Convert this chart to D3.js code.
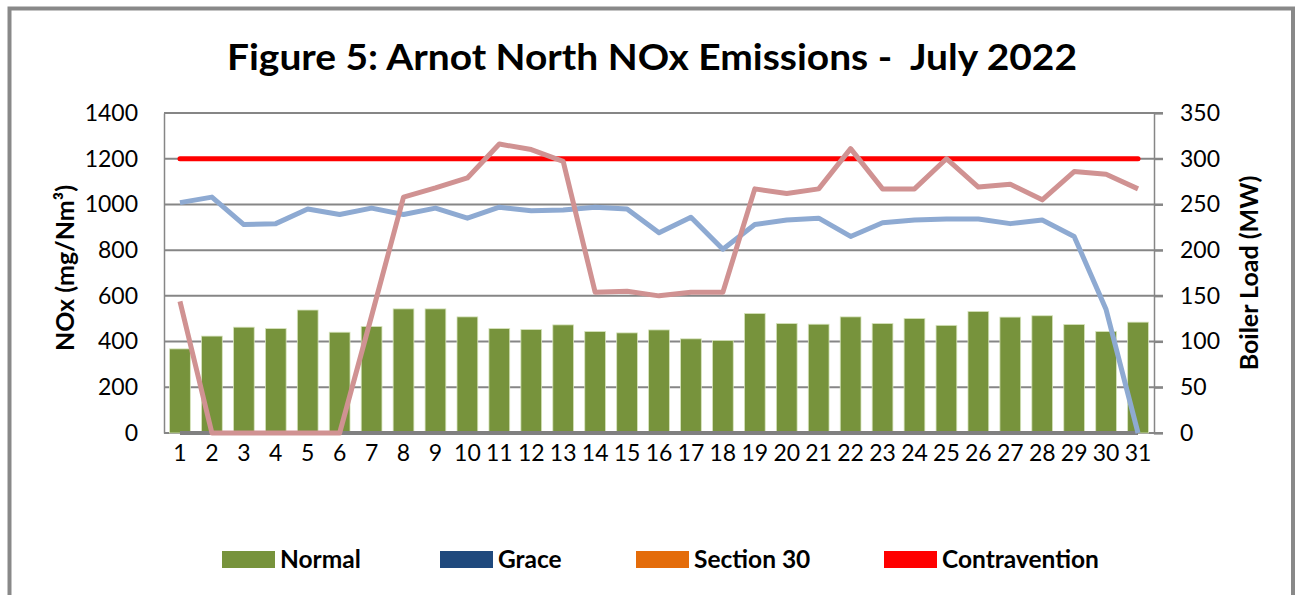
<!DOCTYPE html>
<html>
<head>
<meta charset="utf-8">
<script src="https://cdn.jsdelivr.net/npm/d3@7"></script>
<style>
  body { margin: 0; background: #fff; }
  text { font-family: Lato, "Open Sans", sans-serif; fill: #000; white-space: pre; }
</style>
</head>
<body>
<div class="chart"></div>
<script>
// days of July
var days = [1, 2, 3, 4, 5, 6, 7, 8, 9, 10, 11, 12, 13, 14, 15, 16, 17, 18, 19, 20, 21, 22, 23, 24, 25, 26, 27, 28, 29, 30, 31];

// daily NOx, normal operation (mg/Nm3)
var normalNox = [368, 424, 463, 457, 538, 441, 466, 543, 543, 508, 457, 453, 473, 444, 438, 451, 412, 405, 523, 479, 476, 508, 479, 501, 471, 532, 507, 513, 475, 444, 485];

// boiler loads (MW)
var loadA = [252, 258, 228, 229, 245, 239, 246, 239, 246, 235, 247, 243, 244, 247, 245, 219, 236, 201, 228, 233, 235, 215, 230, 233, 234, 234, 229, 233, 215, 135, 0];
var loadB = [144, 0, 0, 0, 0, 0, 128, 258, 268, 279, 316, 310, 297, 154, 155, 150, 154, 154, 267, 262, 267, 311, 267, 267, 300, 269, 272, 255, 286, 283, 267];

// contravention limit (mg/Nm3)
var limit = 1200;

var leftTicks = [0, 200, 400, 600, 800, 1000, 1200, 1400];
var rightTicks = [0, 50, 100, 150, 200, 250, 300, 350];

var legendItems = [
    { name: "Normal", color: "#77933c", x: 222 },
    { name: "Grace", color: "#1f497d", x: 440 },
    { name: "Section 30", color: "#e46c0a", x: 636 },
    { name: "Contravention", color: "#ff0000", x: 884 }
];

var W = 1302, H = 595;
var plotL = 164, plotR = 1154, plotT = 113, plotB = 433;

var svg = d3.select(".chart")
            .append("svg")
            .attr("width", W)
            .attr("height", H);

svg.append("rect").attr("width", W).attr("height", H).attr("fill", "#fff");

// outer frame
svg.append("rect")
    .attr("x", 9.5).attr("y", 8.5)
    .attr("width", 1283.5).attr("height", 600)
    .attr("fill", "none")
    .attr("stroke", "#898989")
    .attr("stroke-width", 4);

// title
svg.append("text")
    .attr("x", 652).attr("y", 70)
    .attr("text-anchor", "middle")
    .attr("font-size", 36)
    .attr("font-weight", "bold")
    .attr("textLength", 850)
    .attr("lengthAdjust", "spacingAndGlyphs")
    .text("Figure 5: Arnot North NOx Emissions -  July 2022");

var x = d3.scaleBand().domain(days).range([plotL, plotR]).paddingInner(0.35).paddingOuter(0.175);
var xc = function (d) { return x(d) + x.bandwidth() / 2; };
var yL = d3.scaleLinear().domain([0, 1400]).range([plotB, plotT]);
var yR = d3.scaleLinear().domain([0, 350]).range([plotB, plotT]);

// gridlines
svg.append("g")
    .selectAll("line")
    .data(leftTicks)
    .enter()
    .append("line")
    .attr("x1", plotL).attr("x2", plotR + 9)
    .attr("y1", function (d) { return yL(d); })
    .attr("y2", function (d) { return yL(d); })
    .attr("stroke", "#868686")
    .attr("stroke-width", 2);

// left axis
var gL = svg.append("g").attr("transform", "translate(" + plotL + ",0)")
    .call(d3.axisLeft(yL).tickValues(leftTicks).tickFormat(d3.format("d")).tickSize(0).tickPadding(26));
gL.select(".domain").attr("stroke", "#868686").attr("stroke-width", 1.5);
gL.selectAll("text").attr("font-size", 23).attr("font-family", "Lato");

// right axis
var gR = svg.append("g").attr("transform", "translate(" + plotR + ",0)")
    .call(d3.axisRight(yR).tickValues(rightTicks).tickSize(9).tickPadding(17));
gR.select(".domain").attr("stroke", "#868686").attr("stroke-width", 1.5);
gR.selectAll(".tick line").attr("stroke", "#868686").attr("stroke-width", 2);
gR.selectAll("text").attr("font-size", 23).attr("font-family", "Lato");

// x axis labels
var gX = svg.append("g").attr("transform", "translate(0," + plotB + ")")
    .call(d3.axisBottom(x).tickSize(0).tickPadding(12));
gX.select(".domain").remove();
gX.selectAll("text").attr("font-size", 23).attr("font-family", "Lato");

// bars
svg.selectAll("rect.bar")
    .data(normalNox)
    .enter()
    .append("rect")
    .attr("class", "bar")
    .attr("x", function (d, i) { return x(days[i]); })
    .attr("y", function (d) { return yL(d); })
    .attr("width", x.bandwidth())
    .attr("height", function (d) { return plotB - yL(d); })
    .attr("fill", "#77933c")
    .attr("stroke", "#d7e4bd")
    .attr("stroke-width", 0.8);

// bottom gray zero line
svg.append("line")
    .attr("x1", xc(days[0])).attr("x2", xc(days[days.length - 1]))
    .attr("y1", yL(0)).attr("y2", yL(0))
    .attr("stroke", "#808080")
    .attr("stroke-width", 4);

// contravention limit
svg.append("line")
    .attr("x1", xc(days[0])).attr("x2", xc(days[days.length - 1]))
    .attr("y1", yL(limit)).attr("y2", yL(limit))
    .attr("stroke", "#ff0000")
    .attr("stroke-width", 5)
    .attr("stroke-linecap", "round");

var line = d3.line()
    .x(function (d, i) { return xc(days[i]); })
    .y(function (d) { return yR(d); });

svg.append("path")
    .datum(loadA)
    .attr("d", line)
    .attr("fill", "none")
    .attr("stroke", "#8eaad2")
    .attr("stroke-width", 5)
    .attr("stroke-linejoin", "round");

svg.append("path")
    .datum(loadB)
    .attr("d", line)
    .attr("fill", "none")
    .attr("stroke", "#d09292")
    .attr("stroke-width", 5)
    .attr("stroke-linejoin", "round");

// axis titles
svg.append("text")
    .attr("transform", "translate(74,268) rotate(-90)")
    .attr("text-anchor", "middle")
    .attr("font-size", 25)
    .attr("font-weight", "bold")
    .text("NOx (mg/Nm³)");

svg.append("text")
    .attr("transform", "translate(1258,273) rotate(-90)")
    .attr("text-anchor", "middle")
    .attr("font-size", 25)
    .attr("font-weight", "bold")
    .text("Boiler Load (MW)");

// legend
var lg = svg.append("g");
lg.selectAll("rect")
    .data(legendItems)
    .enter()
    .append("rect")
    .attr("x", function (d) { return d.x; })
    .attr("y", 551)
    .attr("width", 53)
    .attr("height", 17)
    .attr("fill", function (d) { return d.color; });
lg.selectAll("text")
    .data(legendItems)
    .enter()
    .append("text")
    .attr("x", function (d) { return d.x + 58; })
    .attr("y", 568)
    .attr("font-size", 24.5)
    .attr("font-weight", "bold")
    .text(function (d) { return d.name; });
</script>
</body>
</html>
